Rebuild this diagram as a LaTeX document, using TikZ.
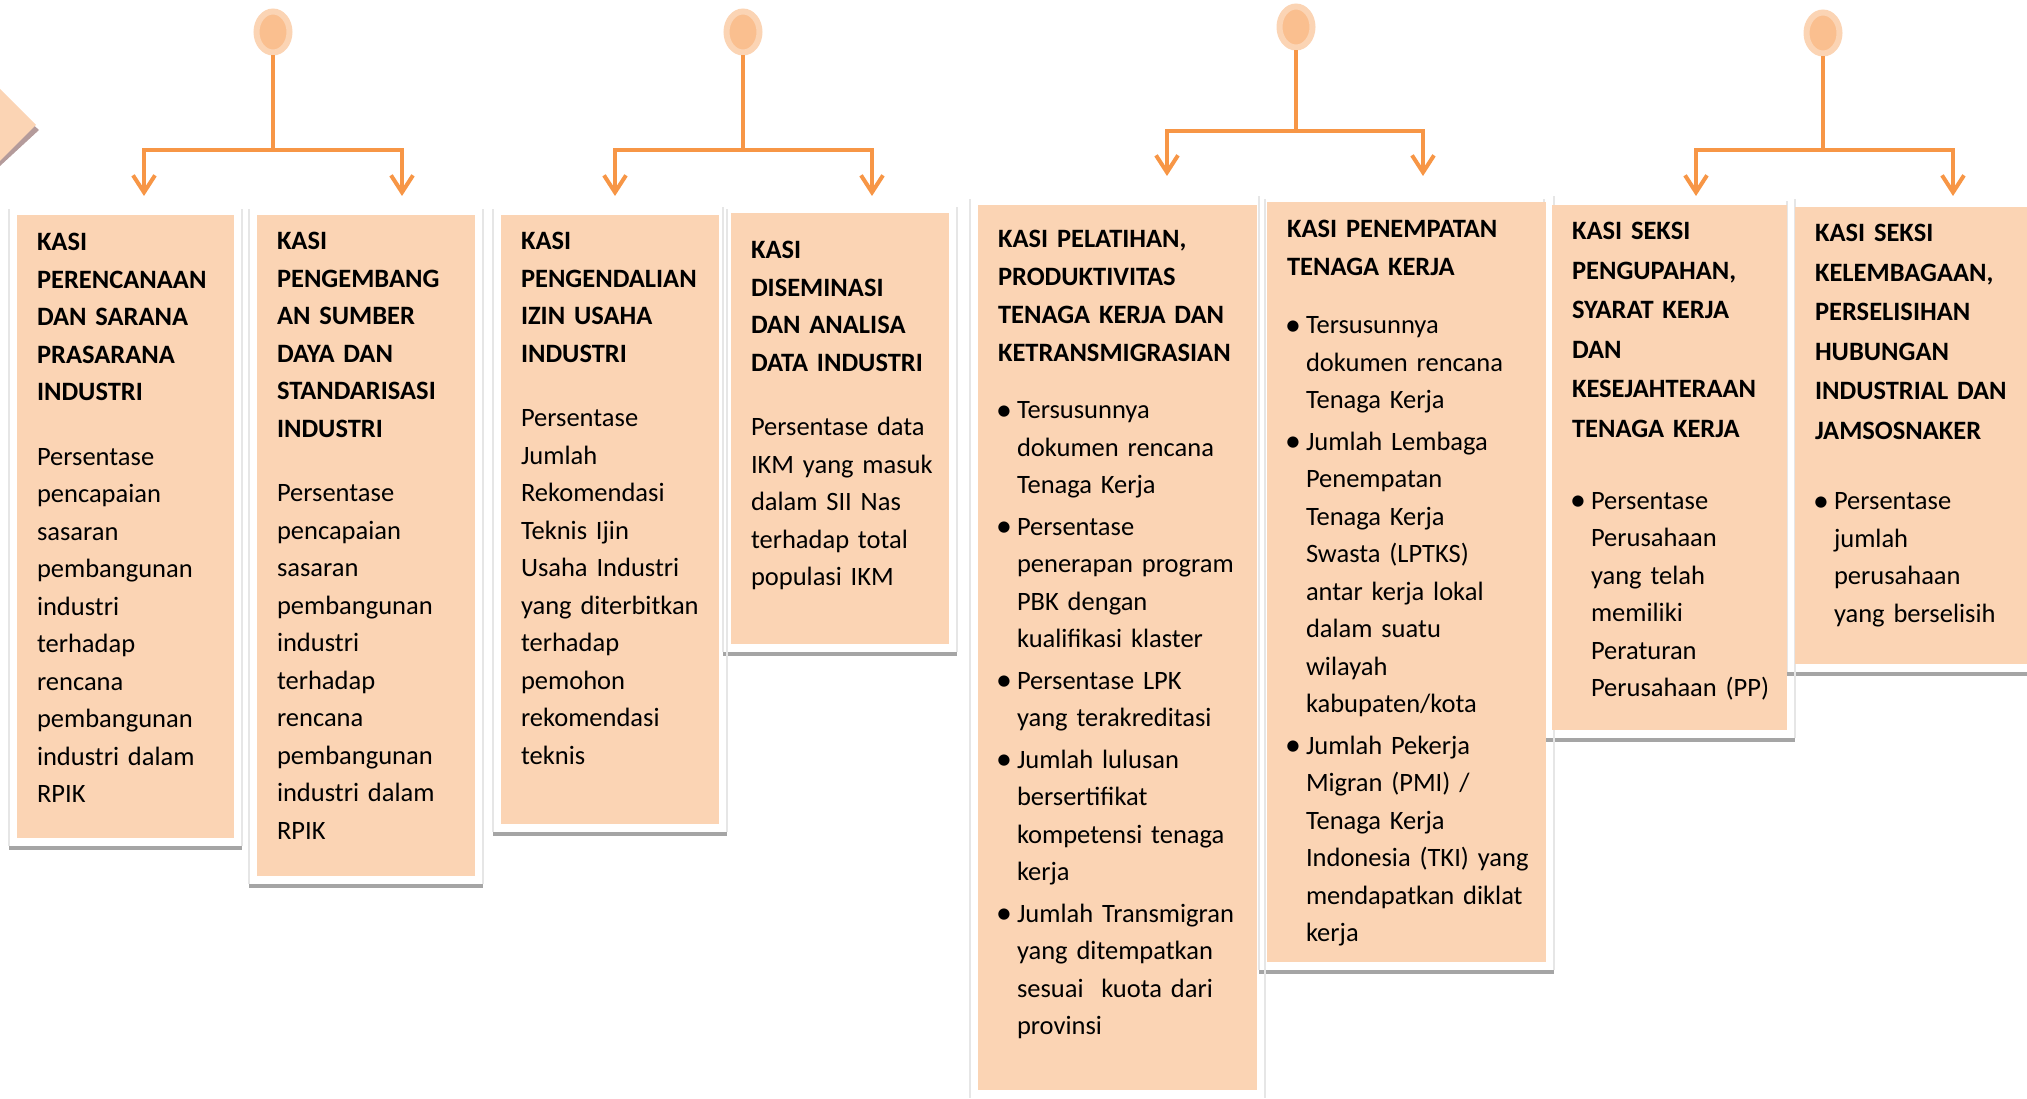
\documentclass[tikz,border=0pt]{standalone}
\usepackage{fontspec}
\setmainfont{Carlito}
\usetikzlibrary{arrows.meta,shapes.geometric,backgrounds}
\definecolor{peach}{HTML}{FBD4B4}
\definecolor{bulat}{HTML}{FABF8F}
\definecolor{jingga}{HTML}{F79646}
\definecolor{bayang}{HTML}{A5A5A5}
\definecolor{garis}{HTML}{E6E6E6}
\definecolor{segitiga}{HTML}{B49B9B}

\newcommand{\isi}{\fontsize{26.5pt}{37.5pt}\selectfont\hyphenpenalty=10000\exhyphenpenalty=10000}
\newcommand{\judul}[2][37.5pt]{{\bfseries\setlength{\baselineskip}{#1}#2\par}}
\newcommand{\butir}{\par\vspace{4pt}\leftskip=19pt\leavevmode
  \llap{\makebox[19pt][l]{\hspace{-2pt}\raisebox{-1.5pt}{\scalebox{1.2}{\textbullet}}}}}

\begin{document}
\begin{tikzpicture}[x=1pt, y=-1pt,
  kasi/.style={fill=peach, anchor=north west, inner xsep=20pt, inner ysep=0pt,
               outer sep=0pt, align=left, text width=#1, font=\isi},
  bulatan/.style={ellipse, fill=bulat, draw=peach, line width=6pt,
               minimum width=33pt, minimum height=41pt, inner sep=0pt},
  link/.style={draw=jingga, line width=4pt},
  panah/.style={link, -{Straight Barb[length=17pt, width=22pt]}},
  tepi/.style={draw=garis, line width=1.5pt},
]
\useasboundingbox (0,0) rectangle (2027,1099);
\clip (0,0) rectangle (2027,1099);

% --- Segitiga kiri ---
\fill[segitiga] (0,95) -- (39,130) -- (0,166) -- cycle;
\fill[peach] (0,89) -- (36,125) -- (0,161) -- cycle;

% --- Bidang industri ---
\node[bulatan] (c1) at (273,32) {};
\node[bulatan] (c2) at (743,32) {};
\coordinate (h1) at (273,150);
\coordinate (l1) at (144,196);
\coordinate (r1) at (402,196);
\coordinate (h2) at (743,150);
\coordinate (l2) at (615,196);
\coordinate (r2) at (872,196);
\draw[link] (c1) -- (h1);
\draw[panah] (h1) -| (l1);
\draw[panah] (h1) -| (r1);
\draw[link] (c2) -- (h2);
\draw[panah] (h2) -| (l2);
\draw[panah] (h2) -| (r2);

% --- Kasi 1 ---
\node[kasi=177pt, text height=36pt, text depth=587pt] (b1) at (17,215) {\judul{KASI\\PERENCANAAN\\DAN~SARANA\\PRASARANA\\INDUSTRI}%
  \vspace{27pt}
  Persentase\\pencapaian\\sasaran\\pembangunan\\industri\\terhadap\\rencana\\pembangunan\\industri~dalam\\RPIK\par};

% --- Kasi 2 ---
\node[kasi=178pt, text height=35pt, text depth=626pt] (b2) at (257,215) {\judul{KASI\\PENGEMBANG\\AN~SUMBER\\DAYA~DAN\\STANDARISASI\\INDUSTRI}%
  \vspace{27pt}
  Persentase\\pencapaian\\sasaran\\pembangunan\\industri\\terhadap\\rencana\\pembangunan\\industri~dalam\\RPIK\par};

% --- Kasi 3 ---
\node[kasi=178pt, text height=35pt, text depth=574pt] (b3) at (501,215) {\judul{KASI\\PENGENDALIAN\\IZIN~USAHA\\INDUSTRI}%
  \vspace{27pt}
  Persentase\\Jumlah\\Rekomendasi\\Teknis~Ijin\\Usaha~Industri\\yang~diterbitkan\\terhadap\\pemohon\\rekomendasi\\teknis\par};

% --- Kasi 4 ---
\node[kasi=178pt, text height=46pt, text depth=385pt] (b4) at (731,213) {\judul{KASI\\DISEMINASI\\DAN~ANALISA\\DATA~INDUSTRI}%
  \vspace{27pt}
  Persentase~data\\IKM~yang~masuk\\dalam~SII~Nas\\terhadap~total\\populasi~IKM\par};

% --- Bidang tenaga kerja ---
\node[bulatan] (c3) at (1296,27) {};
\node[bulatan] (c4) at (1823,33) {};
\coordinate (h3) at (1296,131);
\coordinate (l3) at (1167,176);
\coordinate (r3) at (1423,176);
\coordinate (h4) at (1823,150);
\coordinate (l4) at (1696,196);
\coordinate (r4) at (1953,196);
\draw[link] (c3) -- (h3);
\draw[panah] (h3) -| (l3);
\draw[panah] (h3) -| (r3);
\draw[link] (c4) -- (h4);
\draw[panah] (h4) -| (l4);
\draw[panah] (h4) -| (r4);

% --- Kasi 5 ---
\node[kasi=239pt, text height=43pt, text depth=842pt] (b5) at (978,205) {\judul[38pt]{KASI~PELATIHAN,\\PRODUKTIVITAS\\TENAGA~KERJA~DAN\\KETRANSMIGRASIAN}%
  \vspace{15.5pt}
  \butir Tersusunnya\\dokumen~rencana\\Tenaga~Kerja
  \butir Persentase\\penerapan~program\\PBK~dengan\\kualifikasi~klaster
  \butir Persentase~LPK\\yang~terakreditasi
  \butir Jumlah~lulusan\\bersertifikat\\kompetensi~tenaga\\kerja
  \butir Jumlah~Transmigran\\yang~ditempatkan\\sesuai~~kuota~dari\\provinsi\par};

% --- Kasi 6 ---
\node[kasi=239pt, text height=36pt, text depth=724pt] (b6) at (1267,202) {\judul{KASI~PENEMPATAN\\TENAGA~KERJA}%
  \vspace{17pt}
  \butir Tersusunnya\\dokumen~rencana\\Tenaga~Kerja
  \butir Jumlah~Lembaga\\Penempatan\\Tenaga~Kerja\\Swasta~(LPTKS)\\antar~kerja~lokal\\dalam~suatu\\wilayah\\kabupaten/kota
  \butir Jumlah~Pekerja\\Migran~(PMI)~/\\Tenaga~Kerja\\Indonesia~(TKI)~yang\\mendapatkan~diklat\\kerja\par};

% --- Kasi 7 ---
\node[kasi=195pt, text height=35pt, text depth=490pt] (b7) at (1552,205) {\judul[39.5pt]{KASI~SEKSI\\PENGUPAHAN,\\SYARAT~KERJA\\DAN\\KESEJAHTERAAN\\TENAGA~KERJA}%
  \vspace{30.5pt}
  \butir Persentase\\Perusahaan\\yang~telah\\memiliki\\Peraturan\\Perusahaan~(PP)\par};

% --- Kasi 8 ---
\node[kasi=200pt, text height=35pt, text depth=422pt] (b8) at (1795,207) {\judul[39.5pt]{KASI~SEKSI\\KELEMBAGAAN,\\PERSELISIHAN\\HUBUNGAN\\INDUSTRIAL~DAN\\JAMSOSNAKER}%
  \vspace{29pt}
  \butir Persentase\\jumlah\\perusahaan\\yang~berselisih\par};

% --- Bingkai dan bayangan ---
\begin{scope}[on background layer]
  \foreach \i in {1,2,3,4,6,7,8}
    \fill[bayang] ([shift={(-8,8)}]b\i.south west) rectangle ([shift={(8,12)}]b\i.south east);
  \foreach \i in {1,...,8} {
    \draw[tepi] ([shift={(-8,-6)}]b\i.north west) -- ([shift={(-8,8)}]b\i.south west);
    \draw[tepi] ([shift={(8,-6)}]b\i.north east) -- ([shift={(8,8)}]b\i.south east);
  }
\end{scope}

\end{tikzpicture}
\end{document}
